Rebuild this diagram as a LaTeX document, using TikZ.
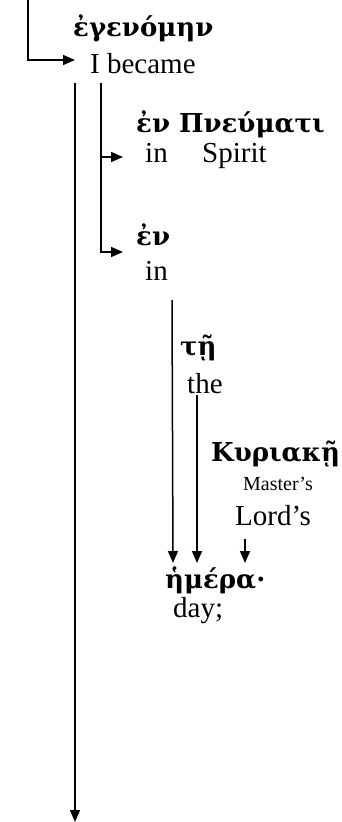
\documentclass[tikz,border=0pt]{standalone}
\usepackage{fontspec}
\setmainfont{Liberation Serif}
\newfontfamily\grk{DejaVu Serif}
\usetikzlibrary{arrows.meta,positioning}
\tikzset{
  gk/.style={font=\grk\bfseries\fontsize{26}{30}\selectfont, inner sep=0pt, anchor=base west},
  en/.style={font=\fontsize{29}{33}\selectfont, inner sep=0pt, anchor=base west},
  sm/.style={font=\fontsize{20}{24}\selectfont, inner sep=0pt, anchor=base west},
  arr/.style={-{Triangle[length=12pt,width=10pt]}, line width=1.5pt},
  ln/.style={line width=1.5pt}
}
\begin{document}
\begin{tikzpicture}[x=1pt,y=-1pt]
\useasboundingbox (0,0) rectangle (342,822);
% words
\node[gk] (egen) at (73,36) {ἐγενόμην};
\node[en] (became) at (90,73) {I became};
\node[gk] (enpn) at (136,132) {ἐν Πνεύματι};
\node[en] (in1) at (145,162) {in};
\node[en] (spirit) at (202,162) {Spirit};
\node[gk] (en2) at (136,245) {ἐν};
\node[en] (in2) at (145,280) {in};
\node[gk] (te) at (180,355) {τῇ};
\node[en] (the) at (187,393) {the};
\node[gk] (kyr) at (211,461) {Κυριακῇ};
\node[sm] (master) at (243,490) {Master’s};
\node[en] (lords) at (235,525) {Lord’s};
\node[gk] (hem) at (165,588) {ἡμέρα·};
\node[en] (day) at (173,617) {day;};
% connectors
\coordinate (top) at (28,0);
\coordinate (bot) at (75,822);
\draw[arr] (top) |- ([xshift=-15pt,yshift=13pt]became.base west);
\draw[arr] ([xshift=-15pt,yshift=-10pt]became.base west) -- (bot);
\draw[arr] ([xshift=11pt,yshift=-10pt]became.base west) |- ([xshift=-13pt,yshift=-25pt]enpn.base west);
\draw[arr] ([xshift=11pt,yshift=-10pt]became.base west) |- ([xshift=-13pt,yshift=-7pt]en2.base west);
\draw[arr] ([xshift=27pt,yshift=-20pt]in2.base west) -- ([xshift=8pt,yshift=25pt]hem.base west);
\draw[arr] ([xshift=10pt,yshift=-2pt]the.base west) -- ([xshift=32pt,yshift=25pt]hem.base west);
\draw[arr] ([xshift=10pt,yshift=-14pt]lords.base west) -- ([xshift=80pt,yshift=25pt]hem.base west);
\end{tikzpicture}
\end{document}
